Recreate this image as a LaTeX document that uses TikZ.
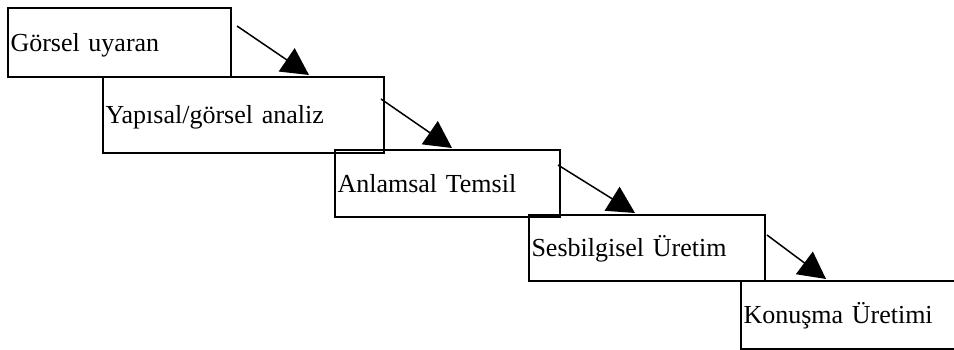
\documentclass[tikz,border=0pt]{standalone}
\usepackage{fontspec}
\setmainfont{Liberation Serif}
\usetikzlibrary{arrows.meta,calc}
\tikzset{
  stagebox/.style={draw=black, line width=2pt, rectangle, anchor=north west,
    inner xsep=2.5pt, inner ysep=0pt, align=left,
    text height=22pt, text depth=5pt,
    font=\fontsize{26}{30}\selectfont},
  flowarrow/.style={draw=black, line width=1.5pt,
    -{Triangle[length=27pt,width=28pt]}}
}
\begin{document}
\begin{tikzpicture}[x=1pt,y=-1pt]
\useasboundingbox (0,0) rectangle (954,349);
\fill[white] (0,0) rectangle (954,349);
\node[stagebox, text width=218pt, minimum height=69pt] (b1) at (7,7) {Görsel uyaran};
\node[stagebox, text width=276pt, minimum height=76pt] (b2) at (102,76) {Yapısal/görsel analiz};
\node[stagebox, text width=220pt, minimum height=67pt] (b3) at (334,149) {Anlamsal Temsil};
\node[stagebox, text width=231pt, minimum height=66pt] (b4) at (528,214) {Sesbilgisel Üretim};
\node[stagebox, text width=235pt, minimum height=68pt] (b5) at (740,280) {Konuşma Üretimi};
\coordinate (s1) at ($(b1.north east)+(5,19)$);
\coordinate (t1) at ($(b2.north west)+(207,-1)$);
\coordinate (s2) at ($(b2.north east)+(-4,23)$);
\coordinate (t2) at ($(b3.north west)+(118,-1)$);
\coordinate (s3) at ($(b3.north east)+(-3,16)$);
\coordinate (t3) at ($(b4.north west)+(107,-1)$);
\coordinate (s4) at ($(b4.north east)+(1,21)$);
\coordinate (t4) at ($(b5.north west)+(86,-1)$);
\draw[flowarrow] (s1) -- (t1);
\draw[flowarrow] (s2) -- (t2);
\draw[flowarrow] (s3) -- (t3);
\draw[flowarrow] (s4) -- (t4);
\end{tikzpicture}
\end{document}
